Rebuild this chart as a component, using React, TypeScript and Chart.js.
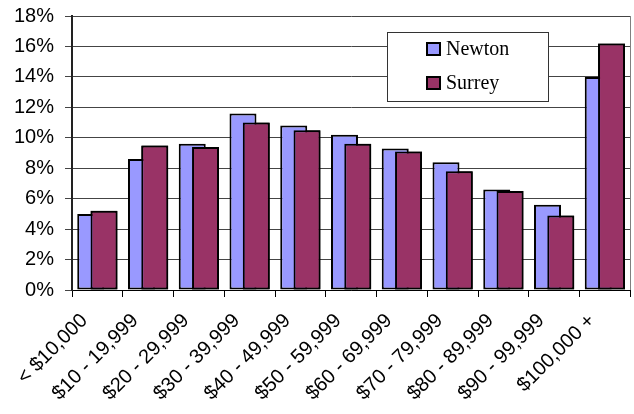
import React, { useEffect, useRef } from "react";
import { Chart, registerables } from "chart.js";

Chart.register(...registerables);

const categories = [
  "< $10,000",
  "$10 - 19,999",
  "$20 - 29,999",
  "$30 - 39,999",
  "$40 - 49,999",
  "$50 - 59,999",
  "$60 - 69,999",
  "$70 - 79,999",
  "$80 - 89,999",
  "$90 - 99,999",
  "$100,000 +",
];
const newton = [5.0, 8.6, 9.6, 11.6, 10.8, 10.2, 9.3, 8.4, 6.6, 5.6, 14.0];
const surrey = [5.2, 9.5, 9.4, 11.0, 10.5, 9.6, 9.1, 7.8, 6.5, 4.9, 16.2];
const seriesNames = ["Newton", "Surrey"];
const seriesColors = ["#9999FF", "#993366"];

const SANS = "'Liberation Sans', Arial, sans-serif";
const SERIF = "'Liberation Serif', 'Times New Roman', serif";

const overlapPlugin = {
  id: "overlapRedraw",
  afterDatasetsDraw(chart: any) {
    const meta = chart.getDatasetMeta(1);
    if (meta && meta.controller) {
      const ctx = chart.ctx;
      ctx.save();
      meta.controller.draw();
      ctx.restore();
    }
  },
  afterDraw(chart: any) {
    const ctx = chart.ctx;
    const a = chart.chartArea;
    ctx.save();
    // right border of the plot area
    ctx.strokeStyle = "#808080";
    ctx.lineWidth = 1;
    ctx.beginPath();
    ctx.moveTo(Math.round(a.right) + 0.5, a.top);
    ctx.lineTo(Math.round(a.right) + 0.5, a.bottom);
    ctx.stroke();

    // legend box
    const bx = 387, by = 32, bw = 161, bh = 69;
    ctx.fillStyle = "#ffffff";
    ctx.fillRect(bx, by, bw, bh);
    ctx.strokeStyle = "#333333";
    ctx.lineWidth = 1;
    ctx.strokeRect(bx + 0.5, by + 0.5, bw, bh);
    ctx.font = "20px " + SERIF;
    ctx.textBaseline = "middle";
    ctx.textAlign = "left";
    const ds = chart.data.datasets;
    for (let i = 0; i < ds.length; i++) {
      const sy = 42 + i * 34;
      ctx.fillStyle = ds[i].backgroundColor;
      ctx.fillRect(426, sy, 15, 14);
      ctx.strokeStyle = "#000";
      ctx.lineWidth = 2;
      ctx.strokeRect(427, sy + 1, 13, 12);
      ctx.fillStyle = "#000";
      ctx.fillText(ds[i].label, 446, sy + 8);
    }
    ctx.restore();
  },
};

export default function App() {
  const ref = useRef<HTMLCanvasElement | null>(null);
  useEffect(() => {
    document.body.style.margin = "0";
    const canvas = ref.current;
    if (!canvas) return;
    const chart = new Chart(canvas, {
      type: "bar",
      data: {
        labels: categories,
        datasets: [
          {
            label: seriesNames[0],
            data: newton,
            backgroundColor: seriesColors[0],
            borderColor: "#000",
            borderWidth: 2,
            borderSkipped: false,
          },
          {
            label: seriesNames[1],
            data: surrey,
            backgroundColor: seriesColors[1],
            borderColor: "#000",
            borderWidth: 2,
            borderSkipped: false,
          },
        ] as any,
      },
      options: {
        animation: false,
        responsive: false,
        maintainAspectRatio: false,
        datasets: {
          bar: { categoryPercentage: 0.524, barPercentage: 2.03 },
        } as any,
        layout: { padding: { top: 16, right: 3, left: 0, bottom: 0 } },
        plugins: {
          legend: { display: false },
          tooltip: { enabled: false },
          title: { display: false },
        },
        scales: {
          x: {
            type: "category",
            grid: {
              offset: true,
              drawOnChartArea: false,
              drawTicks: true,
              tickLength: 7,
              color: "#000",
            },
            border: { color: "#000", width: 1 },
            ticks: {
              autoSkip: false,
              maxRotation: 45,
              minRotation: 45,
              padding: 12,
              labelOffset: -13,
              color: "#000",
              font: { family: SANS, size: 20 },
            },
            afterFit(scale: any) {
              scale.height = 124;
            },
          },
          y: {
            min: 0,
            max: 18,
            ticks: {
              stepSize: 2,
              padding: 11,
              color: "#000",
              font: { family: SANS, size: 20 },
              callback: (v: any) => v + "%",
            },
            grid: { color: "#444", tickLength: 7, drawTicks: true },
            border: { color: "#222", width: 2 },
            afterFit(scale: any) {
              scale.width = 72;
              scale.paddingTop = 0;
              scale.paddingBottom = 0;
            },
          },
        },
      },
      plugins: [overlapPlugin],
    });
    return () => chart.destroy();
  }, []);
  return (
    <div style={{ width: 634, height: 414 }}>
      <canvas ref={ref} width={634} height={414} style={{ display: "block" }} />
    </div>
  );
}
